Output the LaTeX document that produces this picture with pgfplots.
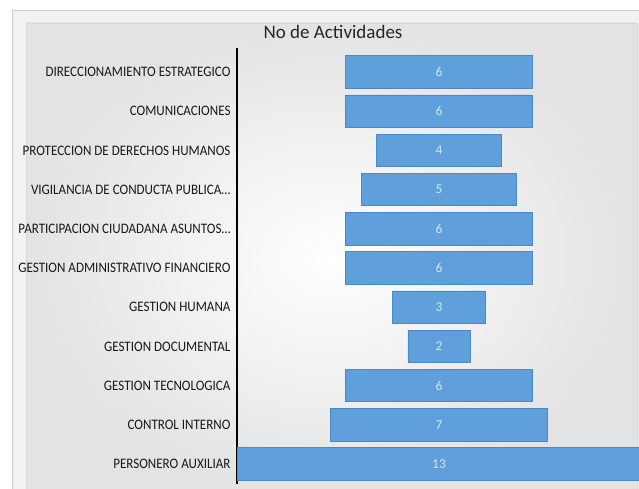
\documentclass[border=0pt]{standalone}
\usepackage{pgfplots}
\usepackage{pgfplotstable}
\usepackage{fontspec}
\pgfplotsset{compat=1.18}
\setmainfont{Carlito}
\newfontfamily\labfont[FakeStretch=0.9]{Carlito}
\definecolor{barfill}{HTML}{5FA0DC}
\definecolor{barline}{HTML}{4A88C6}
\definecolor{vallab}{HTML}{D4E6F7}

\pgfplotstableread{
idx off val mid
0 3.5 6 6.5
1 3.5 6 6.5
2 4.5 4 6.5
3 4 5 6.5
4 3.5 6 6.5
5 3.5 6 6.5
6 5 3 6.5
7 5.5 2 6.5
8 3.5 6 6.5
9 3 7 6.5
10 0 13 6.5
}\datatable

\begin{document}
\begin{tikzpicture}
\useasboundingbox (0,0) rectangle (639bp,489bp);
\fill[white] (0,0) rectangle (639bp,489bp);
\fill[gray!10] (12bp,0) rectangle (650bp,479bp);
\draw[gray!40, line width=0.8bp] (12bp,-5bp) -- (12bp,479bp) -- (650bp,479bp);
\shade[inner color=white, outer color=gray!22] (26bp,-5bp) rectangle (637bp,466bp);
\draw[gray!30, line width=0.8bp] (26bp,-5bp) -- (26bp,466bp) -- (637bp,466bp) -- (637bp,-5bp);
\node[font=\fontsize{19bp}{22bp}\selectfont, text=black!85] at (333bp,457bp) {No de Actividades};
\pgfplotsset{
  myaxis/.style={
    at={(237bp,5.4bp)}, anchor=south west,
    scale only axis, width=404bp, height=435.1bp,
    xmin=0, xmax=13, ymin=-0.6, ymax=10.5, y dir=reverse,
    clip=false,
  }
}
\begin{axis}[myaxis,
  xbar stacked, bar width=0.83,
  axis x line=none, axis y line*=left,
  axis line style={black, line width=1.4bp},
  ytick={0,1,2,3,4,5,6,7,8,9,10}, major tick length=0,
  yticklabels={{DIRECCIONAMIENTO ESTRATEGICO}, {COMUNICACIONES}, {PROTECCION DE DERECHOS HUMANOS}, {VIGILANCIA DE CONDUCTA PUBLICA…}, {PARTICIPACION CIUDADANA ASUNTOS…}, {GESTION ADMINISTRATIVO FINANCIERO}, {GESTION HUMANA}, {GESTION DOCUMENTAL}, {GESTION TECNOLOGICA}, {CONTROL INTERNO}, {PERSONERO AUXILIAR}},
  yticklabel style={font=\labfont\fontsize{14.5bp}{16bp}\selectfont, text=black!90, xshift=-3bp},
]
\addplot[draw=none, fill=none] table[x=off, y=idx] {\datatable};
\addplot[fill=barfill, draw=barline, line width=0.8bp] table[x=val, y=idx] {\datatable};
\end{axis}
\begin{axis}[myaxis, hide axis, /pgf/number format/assume math mode=true]
\addplot[only marks, mark=none, nodes near coords, point meta=explicit,
  nodes near coords style={anchor=center, text=vallab, font=\fontsize{13.5bp}{15bp}\selectfont}]
  table[x=mid, y=idx, meta=val] {\datatable};
\end{axis}
\end{tikzpicture}
\end{document}
